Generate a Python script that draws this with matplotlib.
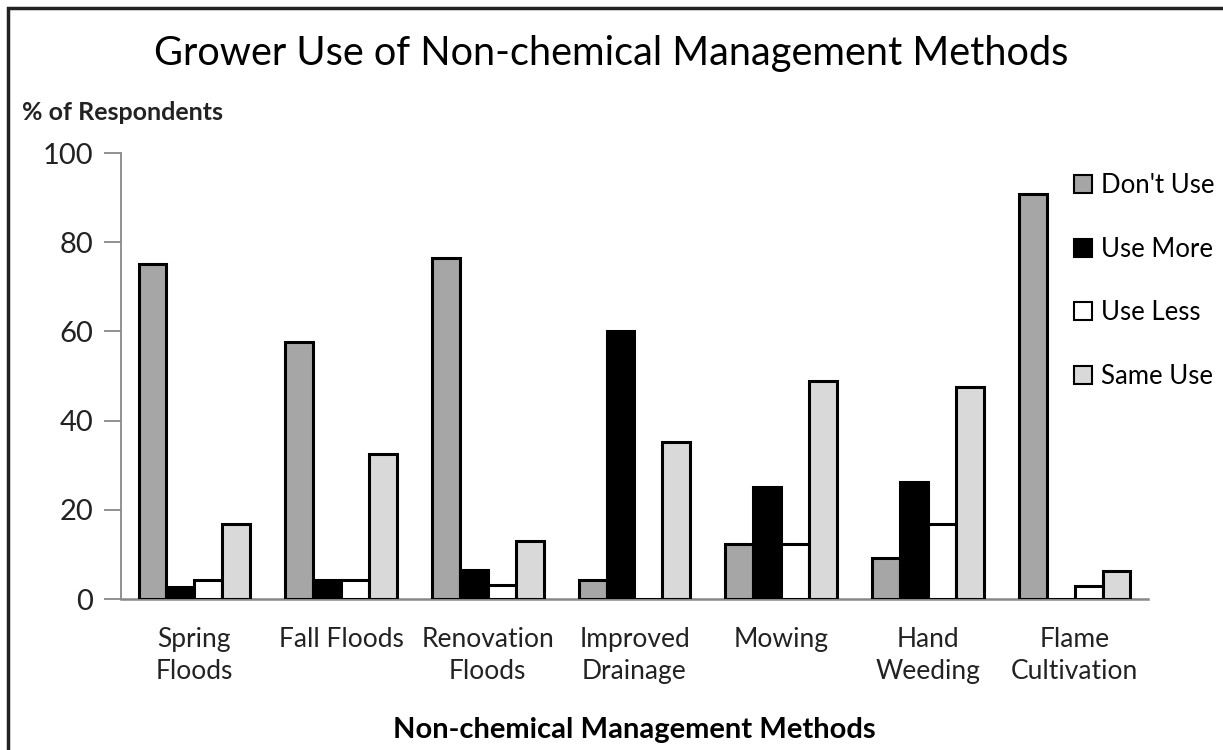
import matplotlib
matplotlib.use("Agg")
import matplotlib.pyplot as plt
import numpy as np
from matplotlib.patches import Rectangle

plt.rcParams['font.family'] = ['Lato', 'DejaVu Sans']

methods = ["Spring\nFloods", "Fall Floods", "Renovation\nFloods", "Improved\nDrainage",
           "Mowing", "Hand\nWeeding", "Flame\nCultivation"]
series = ["Don't Use", "Use More", "Use Less", "Same Use"]
dont_use = [75.1, 57.6, 76.5, 4.3, 12.4, 9.1, 90.9]
use_more = [2.7, 4.3, 6.6, 60.1, 25.2, 26.2, 0.0]
use_less = [4.3, 4.3, 3.1, 0.0, 12.4, 16.9, 2.9]
same_use = [16.8, 32.4, 12.9, 35.2, 48.9, 47.6, 6.2]
colors = ["#a6a6a6", "#000000", "#ffffff", "#d9d9d9"]

fig = plt.figure(figsize=(12.23, 7.5), dpi=100)
ax = fig.add_axes([121/1223, 1-599/750, (1148-121)/1223, (599-153)/750])

x = np.arange(len(methods))
w = 0.19
for i, (vals, c, lab) in enumerate(zip([dont_use, use_more, use_less, same_use], colors, series)):
    ax.bar(x + (i - 1.5) * w, vals, width=w, color=c, edgecolor="black", linewidth=2.2, label=lab, zorder=3)

ax.set_xlim(-0.5, len(methods) - 0.5)
ax.set_ylim(0, 100)
ax.set_yticks([0, 20, 40, 60, 80, 100])
ax.set_xticks(x)
ax.set_xticklabels(methods, fontsize=19, color="#222222", linespacing=1.35)
ax.tick_params(axis="y", labelsize=21, length=12, color="#888888", width=1.3, labelcolor="#222222", pad=8)
ax.tick_params(axis="x", length=0, pad=20)
for s in ["top", "right"]:
    ax.spines[s].set_visible(False)
ax.spines["left"].set_color("#888888")
ax.spines["bottom"].set_color("#888888")
ax.spines["left"].set_linewidth(1.3)
ax.spines["bottom"].set_linewidth(1.8)

ax.set_xlabel("Non-chemical Management Methods", fontsize=21, fontweight="bold", labelpad=24)

fig.text(0.5, 1 - 54/750, "Grower Use of Non-chemical Management Methods", fontsize=28.6,
         ha="center", va="center")
fig.text(22/1223, 1 - 113/750, "% of Respondents", fontsize=18, fontweight="bold",
         ha="left", va="center", color="#222222")

leg = ax.legend(loc="upper left", bbox_to_anchor=(1064/1223, 1 - 163/750),
                bbox_transform=fig.transFigure, frameon=False, fontsize=18.5,
                handlelength=0.7, handleheight=0.7, handletextpad=0.35, labelspacing=1.5,
                borderaxespad=0)
for h in leg.legend_handles:
    h.set_linewidth(1.5)

fig.patches.append(Rectangle((8/1223, -0.1), 1.2, 1 - 8/750 + 0.1, transform=fig.transFigure,
                             fill=False, edgecolor="#222222", linewidth=2.5))

fig.savefig("out.png", dpi=100)
